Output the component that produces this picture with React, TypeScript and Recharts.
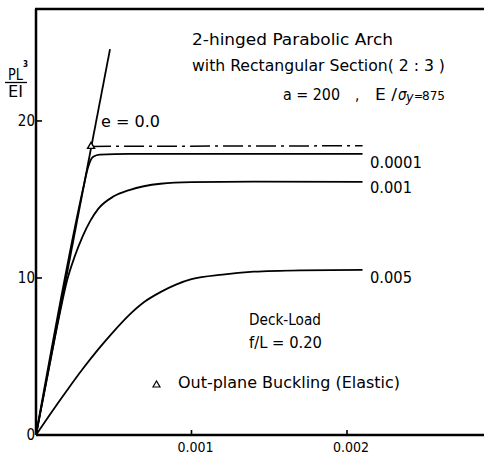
import React from "react";
import { ComposedChart, Line, Scatter, XAxis, YAxis } from "recharts";

// axis ranges
const X_MAX = 0.002881;
const Y_MAX = 27.13;
const xTicks = [0.001, 0.002];
const xTickLabels = ["0.001", "0.002"];
const yTicks = [0, 10, 20];
const yTickLabels = ["0", "10", "20"];

// e = 0.0 (straight line)
const elasticX = [0, 0.000476];
const elasticY = [0, 24.57];

// e = 0.0001
const e1X = [0, 0.00031, 0.000332, 0.000343, 0.000368, 0.00041, 0.0006, 0.0021];
const e1Y = [0, 16.0, 16.95, 17.3, 17.72, 17.86, 17.9, 17.9];

// e = 0.001
const e2X = [0, 0.0001, 0.00015, 0.0002, 0.00025, 0.0003, 0.00035, 0.0004, 0.0005, 0.0006, 0.0008, 0.001, 0.0014, 0.0021];
const e2Y = [0, 5.1, 7.6, 9.85, 11.4, 12.65, 13.65, 14.4, 15.2, 15.6, 16.0, 16.1, 16.13, 16.12];

// e = 0.005
const e3X = [0, 0.0001, 0.0002, 0.0003, 0.0004, 0.0005, 0.0006, 0.0007, 0.0008, 0.0009, 0.001, 0.0012, 0.0014, 0.0017, 0.0021];
const e3Y = [0, 1.45, 2.85, 4.2, 5.45, 6.6, 7.65, 8.5, 9.1, 9.58, 9.92, 10.22, 10.4, 10.49, 10.52];

// out-plane buckling (elastic)
const bucklingX = [0.000354, 0.0021];
const bucklingY = [18.38, 18.42];

const toRows = (xs: number[], ys: number[]) => xs.map((x, i) => ({ x, y: ys[i] }));

const FONT = "'DejaVu Sans Condensed', 'DejaVu Sans', sans-serif";

const YTick = (props: any) => {
  const { x, y, index } = props;
  return (
    <g>
      <line x1={x} x2={x + 6} y1={y} y2={y} stroke="#000" strokeWidth={1.6} />
      <text x={x - 1} y={y + 5} textAnchor="end" fontSize={15} fontFamily={FONT} fill="#000">
        {yTickLabels[index]}
      </text>
    </g>
  );
};

const XTick = (props: any) => {
  const { x, y, index } = props;
  return (
    <g>
      <line x1={x} x2={x} y1={y} y2={y - 5} stroke="#000" strokeWidth={1.6} />
      <text x={x + 4} y={y + 17} textAnchor="middle" fontSize={14} fontFamily={FONT} fill="#000">
        {xTickLabels[index]}
      </text>
    </g>
  );
};

const Triangle = (props: any) => {
  const { cx, cy } = props;
  return (
    <polygon
      points={`${cx},${cy - 4} ${cx - 3.5},${cy + 2} ${cx + 3.5},${cy + 2}`}
      fill="#fff"
      stroke="#000"
      strokeWidth={1.4}
    />
  );
};

const T = (p: any) => (
  <text fontFamily={FONT} fontSize={15} fill="#000" lengthAdjust="spacingAndGlyphs" {...p} />
);

export default function App() {
  const lineProps = {
    dataKey: "y",
    stroke: "#000",
    strokeWidth: 1.8,
    dot: false,
    isAnimationActive: false,
  };

  return (
    <div style={{ position: "absolute", left: 0, top: 0, width: 484, height: 457, background: "#fff" }}>
      <ComposedChart width={484} height={457} margin={{ top: 9, right: 0, bottom: 0, left: 0 }}>
        <XAxis
          type="number"
          dataKey="x"
          domain={[0, X_MAX]}
          ticks={xTicks}
          allowDataOverflow
          height={22}
          tickSize={0}
          tickMargin={0}
          tickLine={false}
          tick={<XTick />}
          axisLine={{ stroke: "#000", strokeWidth: 2.5 }}
        />
        <YAxis
          type="number"
          dataKey="y"
          domain={[0, Y_MAX]}
          ticks={yTicks}
          allowDataOverflow
          width={36}
          tickSize={0}
          tickMargin={0}
          tickLine={false}
          tick={<YTick />}
          axisLine={{ stroke: "#000", strokeWidth: 2.5 }}
        />
        <Line {...lineProps} data={toRows(elasticX, elasticY)} type="linear" />
        <Line {...lineProps} data={toRows(e1X, e1Y)} type="monotone" />
        <Line {...lineProps} data={toRows(e2X, e2Y)} type="monotone" />
        <Line {...lineProps} data={toRows(e3X, e3Y)} type="monotone" />
        <Line
          {...lineProps}
          data={toRows(bucklingX, bucklingY)}
          type="linear"
          strokeWidth={1.5}
          strokeDasharray="20 5 3 5"
        />
        <Scatter data={toRows(bucklingX.slice(0, 1), bucklingY.slice(0, 1))} shape={<Triangle />} isAnimationActive={false} />
      </ComposedChart>

      <svg width={484} height={457} style={{ position: "absolute", left: 0, top: 0, pointerEvents: "none" }}>
        {/* top frame */}
        <line x1={35} x2={484} y1={9} y2={9} stroke="#000" strokeWidth={2.5} />

        {/* y-axis title PL^3 / EI */}
        <T x={8} y={80} textLength={15}>PL</T>
        <text x={23} y={67} fontSize={8} fontWeight="bold" fontFamily={FONT}>3</text>
        <line x1={5} x2={27} y1={82.5} y2={82.5} stroke="#000" strokeWidth={1.3} />
        <T x={8} y={97} textLength={15}>EI</T>

        <T x={192} y={45} textLength={201}>2-hinged Parabolic Arch</T>
        <T x={192} y={71} textLength={253}>with Rectangular Section( 2 : 3 )</T>
        <T x={283} y={100} textLength={57}>a = 200</T>
        <T x={355} y={100}>,</T>
        <T x={375} y={100} textLength={22}>E /</T>
        <T x={398} y={100} fontStyle="italic">σ</T>
        <T x={406} y={102} fontStyle="italic" fontSize={14}>y</T>
        <T x={414} y={100} fontSize={12}>=</T>
        <T x={422} y={100} fontSize={12} textLength={23}>875</T>

        <T x={101} y={127} textLength={59}>e = 0.0</T>
        <T x={370} y={168} textLength={52}>0.0001</T>
        <T x={370} y={193} textLength={42}>0.001</T>
        <T x={370} y={283} textLength={42}>0.005</T>

        <T x={249} y={325} textLength={72}>Deck-Load</T>
        <T x={249} y={348} textLength={73}>f/L = 0.20</T>

        <polygon points="156.5,381 153,387 160,387" fill="none" stroke="#000" strokeWidth={1.2} />
        <T x={178} y={388} textLength={222}>Out-plane Buckling (Elastic)</T>
      </svg>
    </div>
  );
}
